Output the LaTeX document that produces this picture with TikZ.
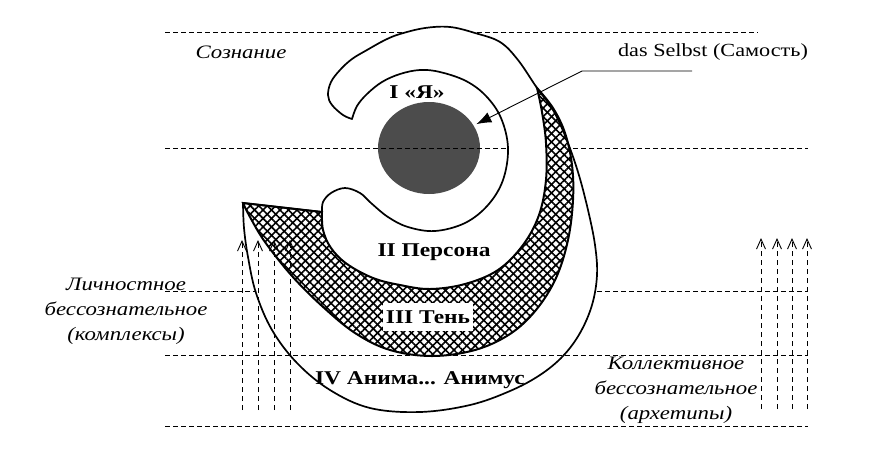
\documentclass[tikz,border=0pt]{standalone}
\usepackage{fontspec}
\setmainfont{Liberation Serif}[FakeStretch=1.2]
\usetikzlibrary{arrows.meta,patterns.meta,shapes.geometric}

\begin{document}
\begin{tikzpicture}[x=1pt,y=-1pt,
  level/.style={dash pattern=on 5pt off 3pt, line width=0.8pt},
  rise/.style={dash pattern=on 5pt off 4pt, line width=0.8pt, -{Straight Barb[length=10pt,width=9pt,line width=0.9pt]}},
  contour/.style={line width=1.7pt, line join=round},
  netfill/.style={line width=2pt, pattern={Lines[angle=45,distance=6pt,line width=1.6pt]},
    postaction={pattern={Lines[angle=-45,distance=6pt,line width=1.6pt]}}},
  zone/.style={font=\fontsize{19.5}{22}\selectfont\bfseries},
  layer/.style={font=\fontsize{19}{25}\selectfont\itshape, align=center}]
\useasboundingbox (0,0) rectangle (890,456);

% the self
\node[ellipse, fill=black!70, minimum width=102pt, minimum height=92pt, inner sep=0pt] (self) at (429,148) {};

% levels of the psyche
\draw[level] (165,32) -- (758,32);
\draw[level] (165,148) -- (808,148);
\draw[level] (165,291) -- (808,291);
\draw[level] (165,426) -- (808,426);

% spiral outline
\draw[contour, fill=white] plot[smooth, tension=0.6] coordinates {(352,119) (343,115) (332,105) (328,95) (331,82) (340,70) (352,59) (367,50) (385,40) (400,34) (425,28) (450,27) (475,33) (500,42) (518,60) (537,88) (553,110) (566,138) (578,172) (588,210) (595,245) (597,275) (592,305) (580,333) (563,356) (540,375) (510,391) (470,405) (420,412) (370,408) (330,390) (297,363) (272,330) (256,293) (248,257) (244,228) (243,203)}
  -- plot[smooth, tension=0.6] coordinates {(322,212) (323,202) (331,193) (345,188) (360,193) (371,203) (388,217) (408,227) (435,231) (465,223) (488,205) (503,180) (508,148) (501,118) (486,96) (466,81) (440,72) (420,70) (400,74) (382,82) (367,94) (357,106) (352,119)}
  -- cycle;

% shadow band
\draw[netfill] (243,203) -- plot[smooth, tension=0.6] coordinates {(322,212) (323,230) (331,248) (347,264) (373,278) (400,285) (430,289) (465,284) (498,270) (523,245) (539,215) (546,180) (546,143) (542,112) (537,88)}
  -- plot[smooth, tension=0.6] coordinates {(537,88) (553,108) (565,133) (572,165) (573,200) (568,240) (556,278) (536,310) (510,334) (475,350) (432,356) (390,350) (355,333) (322,306) (292,276) (265,242) (250,217) (243,203)}
  -- cycle;

\draw[level] (165,355) -- (808,355);

% rising archetypes
\foreach \x [count=\i] in {242,258,274,290} {
  \coordinate (pb\i) at (\x,410);
  \coordinate (pt\i) at (\x,240);
  \draw[rise] (pb\i) -- (pt\i);
}
\foreach \x [count=\i] in {761,777,792,807} {
  \coordinate (cb\i) at (\x,409);
  \coordinate (ct\i) at (\x,238);
  \draw[rise] (cb\i) -- (ct\i);
}

% labels
\node[zone] (ego) at (417,92) {I «Я»};
\node[zone] (persona) at (434,252) {II Персона};
\node[zone, fill=white, minimum width=90pt, minimum height=28pt, inner sep=0pt] (shadow) at (428,317) {III Тень};
\node[zone] (anima) at (420,380) {IV Анима... Анимус};
\node[font=\fontsize{18.5}{22}\selectfont] (selbstlbl) at (713,52) {das Selbst (Самость)};
\node[layer] (aware) at (241,52) {Сознание};
\node[layer] (personal) at (126,311) {Личностное\\бессознательное\\(комплексы)};
\node[layer] (collective) at (676,390) {Коллективное\\бессознательное\\(архетипы)};

\coordinate (hook) at (692,71);
\coordinate (knee) at (582,71);
\draw[line width=0.9pt, shorten >=3pt, -{Latex[length=15pt,width=11pt]}] (hook) -- (knee) -- (self);
\end{tikzpicture}
\end{document}
